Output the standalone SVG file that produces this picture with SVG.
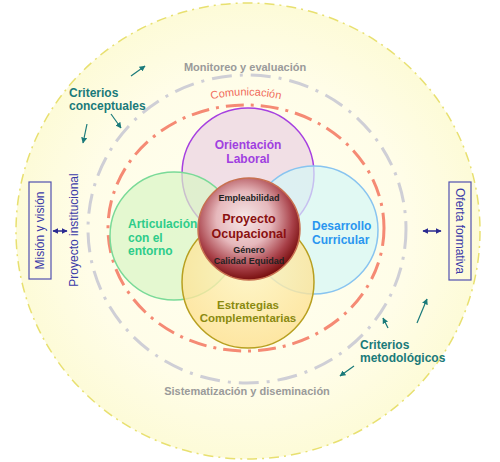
<svg xmlns="http://www.w3.org/2000/svg" width="500" height="462" viewBox="0 0 500 462">
<defs>
<radialGradient id="bg" cx="50%" cy="50%" r="50%">
<stop offset="0" stop-color="#fffff0"/>
<stop offset="0.7" stop-color="#fffde8"/>
<stop offset="1" stop-color="#fdfbd8"/>
</radialGradient>
<radialGradient id="core" cx="45%" cy="40%" r="60%">
<stop offset="0" stop-color="#f6e8e8"/>
<stop offset="0.45" stop-color="#e6b8bc"/>
<stop offset="0.8" stop-color="#a84048"/>
<stop offset="1" stop-color="#7a1010"/>
</radialGradient>
<radialGradient id="estr" cx="50%" cy="40%" r="60%">
<stop offset="0" stop-color="#fdf4c0"/>
<stop offset="1" stop-color="#fde090"/>
</radialGradient>
<path id="comArc" d="M195,104 A140,125 0 0 1 297,104"/>
<marker id="ah" viewBox="0 0 10 10" refX="9" refY="5" markerWidth="5" markerHeight="5" orient="auto-start-reverse">
<path d="M0,0 L10,5 L0,10 z" fill="#1a7a7a"/>
</marker>
<marker id="nh" viewBox="0 0 10 10" refX="9" refY="5" markerWidth="4" markerHeight="4" orient="auto-start-reverse">
<path d="M0,0 L10,5 L0,10 z" fill="#2a2a90"/>
</marker>
</defs>
<style>
text{font-family:"Liberation Sans",Arial,sans-serif;font-weight:bold}
.ring{fill:none}
.teal{fill:#1a7a7a;font-size:12px}
.gray{fill:#9a9a9a;font-size:11px}
.navy{fill:#3a3aa8;font-size:12px;font-weight:normal}
.com{fill:#f06a5a;font-size:11px;font-weight:normal}
.arr{stroke:#1a7a7a;stroke-width:1.2;marker-end:url(#ah)}
.darr{stroke:#2a2a90;stroke-width:1.5;marker-start:url(#nh);marker-end:url(#nh)}
.box{fill:none;stroke:#5050b0;stroke-width:1.2}
</style>
<rect width="500" height="462" fill="#ffffff"/>
<g id="outer">
<ellipse cx="248" cy="231" rx="232" ry="228" fill="url(#bg)" stroke="#e8e070" stroke-width="1.5" stroke-dasharray="10 5 2 5"/>
</g>
<g id="rings">
<ellipse class="ring" cx="247" cy="229" rx="159" ry="154" stroke="#cfcfd6" stroke-width="3" stroke-dasharray="20 8 3 8"/>
<ellipse class="ring" cx="246" cy="228" rx="138" ry="123" stroke="#f58a74" stroke-width="3" stroke-dasharray="18 7 3 7"/>
</g>
<g id="orientacion">
<circle cx="248" cy="174" r="66" fill="#f0dce4" fill-opacity="0.9" stroke="#a640e0" stroke-width="1.5"/>
</g>
<g id="articulacion">
<circle cx="174" cy="236" r="64" fill="#d8f5c4" fill-opacity="0.7" stroke="#7ada98" stroke-width="1.5"/>
</g>
<g id="desarrollo">
<circle cx="314" cy="230" r="64" fill="#d4f6f6" fill-opacity="0.7" stroke="#88c4f0" stroke-width="1.5"/>
</g>
<g id="estrategias">
<circle cx="248" cy="282" r="66" fill="url(#estr)" fill-opacity="0.8" stroke="#b8a020" stroke-width="1.5"/>
</g>
<g id="proyecto">
<circle cx="249" cy="229" r="51" fill="url(#core)" stroke="#c87050" stroke-width="1.5"/>
<text x="249" y="201" text-anchor="middle" font-size="9" fill="#222">Empleabilidad</text>
<text x="249" y="223" text-anchor="middle" font-size="12.5" fill="#8a1010">Proyecto</text>
<text x="249" y="238" text-anchor="middle" font-size="12.5" fill="#8a1010">Ocupacional</text>
<text x="249" y="253" text-anchor="middle" font-size="9" fill="#222">Género</text>
<text x="249" y="264" text-anchor="middle" font-size="9" fill="#222">Calidad Equidad</text>
</g>
<g id="labels-nodes">
<text x="248" y="149" text-anchor="middle" font-size="12" fill="#a040e0">Orientación</text>
<text x="248" y="163" text-anchor="middle" font-size="12" fill="#a040e0">Laboral</text>
<text x="128" y="228" font-size="12" fill="#2ecc8a">Articulación</text>
<text x="128" y="242" font-size="12" fill="#2ecc8a">con el</text>
<text x="128" y="255" font-size="12" fill="#2ecc8a">entorno</text>
<text x="312" y="230" font-size="12" fill="#2a96f0">Desarrollo</text>
<text x="312" y="244" font-size="12" fill="#2a96f0">Curricular</text>
<text x="248" y="309" text-anchor="middle" font-size="11.5" fill="#8a8a10">Estrategias</text>
<text x="248" y="322" text-anchor="middle" font-size="11.5" fill="#8a8a10">Complementarias</text>
</g>
<g id="ring-labels">
<text class="gray" x="245" y="71" text-anchor="middle">Monitoreo y evaluación</text>
<text class="com"><textPath href="#comArc" startOffset="50%" text-anchor="middle">Comunicación</textPath></text>
<text class="gray" x="247" y="395" text-anchor="middle">Sistematización y diseminación</text>
<text class="teal" x="69" y="97">Criterios</text>
<text class="teal" x="69" y="110">conceptuales</text>
<text class="teal" x="360" y="349">Criterios</text>
<text class="teal" x="360" y="362">metodológicos</text>
</g>
<g id="mision">
<rect class="box" x="29" y="182" width="22" height="97"/>
<text class="navy" transform="translate(44,230.5) rotate(-90)" text-anchor="middle">Misión y visión</text>
</g>
<g id="institucional">
<text class="navy" transform="translate(78,230) rotate(-90)" text-anchor="middle">Proyecto institucional</text>
</g>
<g id="oferta">
<rect class="box" x="449" y="182" width="22" height="98"/>
<text class="navy" transform="translate(456,231) rotate(90)" text-anchor="middle">Oferta formativa</text>
</g>
<g id="connectors" fill="none">
<line class="arr" x1="131" y1="76" x2="145" y2="66"/>
<line class="arr" x1="111" y1="114" x2="121" y2="128"/>
<line class="arr" x1="87" y1="124" x2="83" y2="143"/>
<line class="arr" x1="388" y1="328" x2="383" y2="318"/>
<line class="arr" x1="417" y1="323" x2="427" y2="299"/>
<line class="arr" x1="354" y1="366" x2="340" y2="376"/>
<line class="darr" x1="53" y1="231" x2="67" y2="231"/>
<line class="darr" x1="423" y1="231" x2="441" y2="231"/>
</g>
</svg>
